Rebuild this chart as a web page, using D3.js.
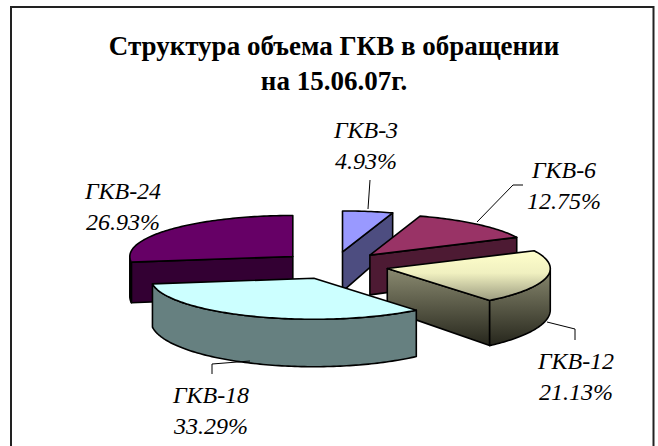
<!DOCTYPE html>
<html>
<head>
<meta charset="utf-8">
<script src="https://cdn.jsdelivr.net/npm/d3@7"></script>
<style>
  html, body { margin: 0; padding: 0; background: #fff; overflow: hidden; }
  text { font-family: "Liberation Serif", serif; fill: #000; }
</style>
</head>
<body>
<div id="chart"></div>
<script>
const categories = ["ГКВ-3", "ГКВ-6", "ГКВ-12", "ГКВ-18", "ГКВ-24"];
const shares = [4.93, 12.75, 21.13, 33.29, 26.93];
const titleLines = ["Структура объема ГКВ в обращении", "на 15.06.07г."];

const topColors = ["#9999ff", "#993366", "url(#topGrad)", "#ccffff", "#660066"];
const sideColors = ["#4d4d80", "#4d1a33", "url(#sideGrad)", "#668080", "#330033"];
// painter's order, back slices first
const drawOrder = [4, 0, 1, 2, 3];
// label anchor (centre x, first baseline) and leader polyline
const labelPos = [[366, 138], [564, 178], [576, 369], [211, 403], [123, 199]];
const leaders = [
  [[370, 180], [368, 209]],
  [[523, 185], [513, 185], [477, 222]],
  [[547, 322], [575, 329], [575, 340]],
  [[212, 374], [212, 364], [250, 361]],
  []
];

const width = 658, height = 446;
const cx = 334, cy = 265.5, rx = 163, ry = 41, explode = 0.335;

const svg = d3.select("#chart").append("svg")
  .attr("width", width)
  .attr("height", height)
  .style("display", "block");

const defs = svg.append("defs");
function grad(id, stops) {
  const g = defs.append("linearGradient").attr("id", id)
    .attr("x1", 0).attr("y1", 0).attr("x2", 0).attr("y2", 1);
  stops.forEach(s => g.append("stop").attr("offset", s[0]).attr("stop-color", s[1]));
}
grad("topGrad", [[0, "#ffffcc"], [0.45, "#f0f0c0"], [1, "#9c9c80"]]);
grad("sideGrad", [[0, "#8a8a70"], [1, "#26261c"]]);

// frame, no bottom edge in the picture
svg.append("path")
  .attr("d", d3.line()([[11, height], [11, 7], [653.5, 7], [653.5, height]]))
  .attr("fill", "none")
  .attr("stroke", "#222")
  .attr("stroke-width", 2);

svg.selectAll(".title")
  .data(titleLines)
  .enter()
  .append("text")
  .attr("class", "title")
  .attr("x", 334)
  .attr("y", (d, i) => 55 + i * 35)
  .attr("text-anchor", "middle")
  .attr("font-size", 27)
  .attr("font-weight", "bold")
  .text(d => d);

const pie = d3.pie().sort(null);
const arcs = pie(shares);

const line = d3.line();
// slices are exploded from the centre along their middle angle
function project(d, a, r) {
  const mid = (d.startAngle + d.endAngle) / 2;
  return [
    cx + explode * rx * Math.sin(mid) + r * rx * Math.sin(a),
    cy - explode * ry * Math.cos(mid) - r * ry * Math.cos(a)
  ];
}
// a bit of perspective: the walls get taller towards the viewer
function drop(p) {
  return [p[0], p[1] + 41 + (p[1] - cy) * 0.12];
}
function arcPoints(d, a0, a1) {
  const n = Math.max(2, Math.ceil((a1 - a0) / 0.02));
  return d3.range(n + 1).map(i => project(d, a0 + (a1 - a0) * i / n, 1));
}

const slices = svg.selectAll(".slice")
  .data(drawOrder)
  .enter()
  .append("g")
  .attr("class", "slice")
  .each(function (idx) {
    const d = arcs[idx];
    const g = d3.select(this);
    const apex = project(d, 0, 0);
    const face = pts => g.append("path")
      .attr("d", line(pts) + "Z")
      .attr("fill", sideColors[idx])
      .attr("stroke", "#000")
      .attr("stroke-width", 1.6)
      .attr("stroke-linejoin", "round");

    // cut faces turned to the viewer
    if (Math.sin(d.startAngle) < -0.001) {
      const p = project(d, d.startAngle, 1);
      face([apex, p, drop(p), drop(apex)]);
    }
    if (Math.sin(d.endAngle) > 0.001) {
      const p = project(d, d.endAngle, 1);
      face([apex, p, drop(p), drop(apex)]);
    }
    // outer wall, front half of the ellipse only
    const a0 = Math.max(d.startAngle, Math.PI / 2);
    const a1 = Math.min(d.endAngle, Math.PI * 1.5);
    if (a1 > a0) {
      const rim = arcPoints(d, a0, a1);
      face(rim.concat(rim.map(drop).reverse()));
    }
    // top
    g.append("path")
      .attr("d", line([apex].concat(arcPoints(d, d.startAngle, d.endAngle))) + "Z")
      .attr("fill", topColors[idx])
      .attr("stroke", "#000")
      .attr("stroke-width", 1.6)
      .attr("stroke-linejoin", "round");
  });

svg.selectAll(".leader")
  .data(leaders)
  .enter()
  .append("path")
  .attr("class", "leader")
  .attr("d", d => d.length ? line(d) : null)
  .attr("fill", "none")
  .attr("stroke", "#000")
  .attr("stroke-width", 1);

const labels = svg.selectAll(".label")
  .data(categories)
  .enter()
  .append("text")
  .attr("class", "label")
  .attr("text-anchor", "middle")
  .attr("font-size", 24)
  .attr("font-style", "italic");

labels.append("tspan")
  .attr("x", (d, i) => labelPos[i][0])
  .attr("y", (d, i) => labelPos[i][1])
  .text(d => d);
labels.append("tspan")
  .attr("x", (d, i) => labelPos[i][0])
  .attr("y", (d, i) => labelPos[i][1] + 31)
  .text((d, i) => shares[i].toFixed(2) + "%");
</script>
</body>
</html>
